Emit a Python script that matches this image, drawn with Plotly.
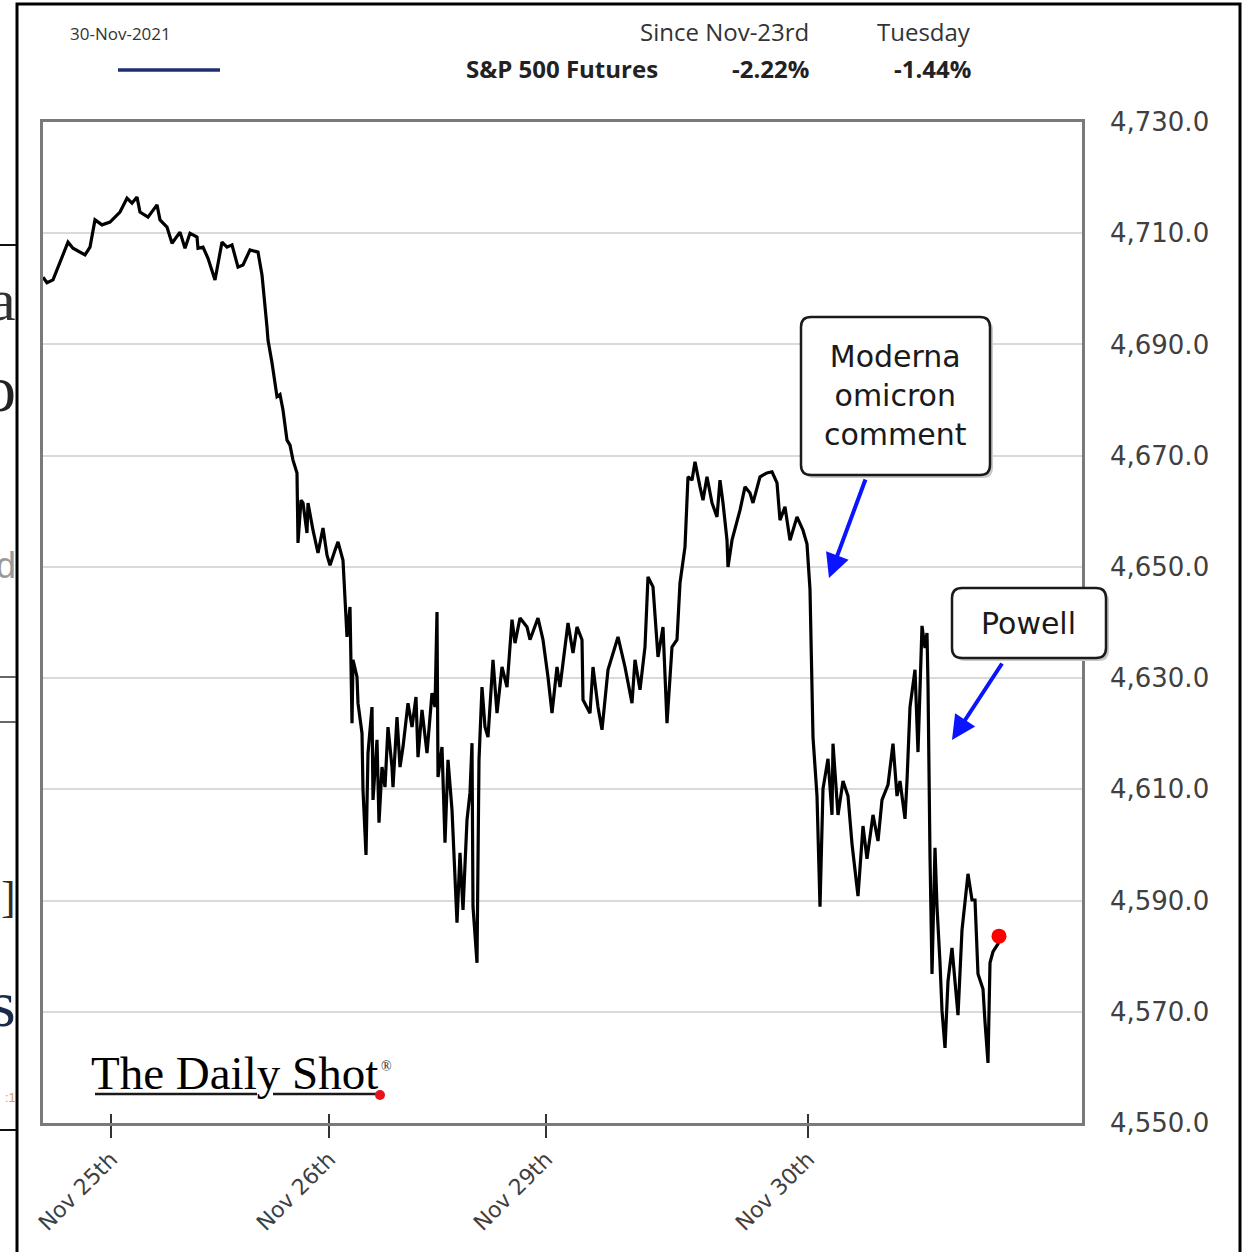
import plotly.graph_objects as go

# ---------------- data ----------------
minute_idx = [0, 4, 10, 17, 25, 30, 42, 47, 52, 59, 67, 77, 84, 89, 94, 97, 105, 114, 117, 124,
              129, 137, 142, 147, 154, 155, 160, 165, 172, 179, 184, 189, 195, 200, 207, 215, 219, 224, 225, 229,
              234, 237, 240, 244, 247, 250, 254, 255, 258, 260, 264, 265, 270, 275, 280, 284, 287, 292, 295, 300,
              302, 304, 307, 309, 310, 314, 315, 319, 320, 323, 325, 329, 330, 334, 336, 339, 342, 345, 349, 350,
              354, 357, 360, 365, 369, 373, 375, 379, 384, 389, 392, 394, 395, 399, 402, 405, 409, 414, 417, 420,
              424, 427, 429, 430, 434, 436, 439, 442, 445, 450, 454, 459, 464, 469, 472, 477, 484, 487, 495, 500,
              505, 509, 514, 517, 525, 530, 534, 539, 540, 547, 550, 555, 559, 565, 575, 582, 589, 592, 597, 602,
              605, 610, 615, 620, 624, 629, 634, 637, 642, 645, 649, 652, 657, 660, 664, 669, 674, 677, 680, 684,
              685, 689, 697, 702, 707, 710, 717, 724, 729, 734, 737, 742, 747, 754, 760, 764, 767, 769, 770, 774,
              777, 780, 785, 789, 790, 795, 800, 805, 809, 812, 815, 820, 824, 830, 835, 839, 845, 850, 854, 857,
              862, 864, 867, 872, 875, 879, 882, 884, 885, 887, 889, 892, 894, 897, 899, 902, 905, 909, 912, 915,
              919, 922, 925, 929, 932, 935, 940, 942, 945, 947, 950, 955, 956]

price = [4702.1, 4701.1, 4701.6, 4704.6, 4708.4, 4707.3, 4706.1, 4707.5, 4712.4, 4711.5,
         4712.0, 4713.8, 4716.3, 4715.4, 4716.5, 4713.8, 4712.9, 4715.1, 4712.4, 4711.1,
         4708.2, 4710.2, 4707.3, 4710.0, 4709.3, 4707.3, 4707.5, 4705.5, 4701.6, 4708.4,
         4707.5, 4707.9, 4703.9, 4704.3, 4707.0, 4706.6, 4702.5, 4693.1, 4690.8, 4686.7,
         4680.6, 4681.0, 4678.2, 4672.8, 4671.9, 4669.2, 4666.9, 4654.3, 4662.0, 4661.5,
         4656.1, 4661.5, 4656.6, 4652.5, 4657.0, 4652.1, 4650.3, 4653.0, 4654.5, 4651.2,
         4644.1, 4637.4, 4642.8, 4621.9, 4633.3, 4630.2, 4625.5, 4620.1, 4609.9, 4598.2,
         4616.5, 4624.8, 4608.1, 4618.9, 4604.0, 4614.0, 4610.4, 4621.2, 4614.0, 4610.4,
         4623.0, 4614.0, 4617.6, 4625.5, 4621.2, 4626.6, 4615.8, 4624.3, 4616.5, 4627.3,
         4624.8, 4641.9, 4612.2, 4617.6, 4600.4, 4615.3, 4606.3, 4586.0, 4598.6, 4588.3,
         4604.5, 4609.4, 4618.3, 4588.9, 4578.8, 4615.3, 4628.4, 4621.2, 4619.4, 4633.3,
         4623.7, 4632.0, 4628.4, 4640.5, 4636.3, 4640.8, 4639.2, 4636.9, 4640.8, 4636.9,
         4630.2, 4623.7, 4632.0, 4628.4, 4639.9, 4634.5, 4639.2, 4636.9, 4626.1, 4623.7,
         4632.0, 4624.8, 4620.7, 4631.5, 4637.4, 4632.0, 4625.5, 4633.3, 4627.9, 4635.6,
         4648.2, 4646.4, 4633.8, 4639.2, 4621.9, 4635.6, 4636.9, 4647.1, 4653.6, 4666.2,
         4665.6, 4668.9, 4664.4, 4662.0, 4666.2, 4661.5, 4659.0, 4665.6, 4661.5, 4654.8,
         4650.0, 4654.8, 4660.2, 4664.4, 4663.3, 4661.5, 4666.2, 4666.9, 4667.1, 4665.1,
         4658.4, 4660.8, 4654.8, 4659.0, 4656.6, 4654.1, 4645.9, 4627.9, 4619.4, 4608.8,
         4588.9, 4610.1, 4615.5, 4605.4, 4618.2, 4605.4, 4611.5, 4608.8, 4600.2, 4595.5,
         4590.8, 4603.4, 4597.5, 4605.4, 4600.7, 4608.1, 4610.8, 4618.2, 4608.8, 4611.5,
         4604.7, 4611.5, 4624.8, 4631.5, 4616.7, 4639.4, 4635.4, 4638.1, 4628.8, 4598.0,
         4576.8, 4599.5, 4588.9, 4578.8, 4570.2, 4563.5, 4575.5, 4581.5, 4575.5, 4569.4,
         4584.7, 4590.1, 4594.8, 4590.1, 4590.1, 4576.8, 4574.1, 4568.2, 4560.8, 4578.8,
         4580.8, 4582.2, 4583.6]

x_tick_pos = [68, 286, 503, 765]
x_tick_text = ["Nov 25th", "Nov 26th", "Nov 29th", "Nov 30th"]
y_tick_vals = [4550, 4570, 4590, 4610, 4630, 4650, 4670, 4690, 4710, 4730]

header_date = "30-Nov-2021"
series_name = "S&P 500 Futures"
col_headers = ["Since Nov-23rd", "Tuesday"]
col_values = ["-2.22%", "-1.44%"]
note_moderna = "Moderna<br>omicron<br>comment"
note_powell = "Powell"

n = min(len(minute_idx), len(price))
minute_idx = minute_idx[:n]
price = price[:n]

# ---------------- layout helpers (pixel -> paper) ----------------
W, H = 1251, 1252
L, R, T, B = 43, 1082, 122, 1123


def fx(px):
    return (px - L) / (R - L)


def fy(py):
    return (B - py) / (B - T)


def rbox(x0, y0, x1, y1, r):
    pts = [
        ("M", [(x0 + r, y0)]), ("L", [(x1 - r, y0)]), ("Q", [(x1, y0), (x1, y0 + r)]),
        ("L", [(x1, y1 - r)]), ("Q", [(x1, y1), (x1 - r, y1)]),
        ("L", [(x0 + r, y1)]), ("Q", [(x0, y1), (x0, y1 - r)]),
        ("L", [(x0, y0 + r)]), ("Q", [(x0, y0), (x0 + r, y0)]),
    ]
    s = ""
    for cmd, ps in pts:
        s += cmd + " " + " ".join(f"{fx(a):.5f},{fy(b):.5f}" for a, b in ps) + " "
    return s + "Z"


fig = go.Figure()
fig.add_trace(go.Scatter(x=minute_idx, y=price, mode="lines",
                         line=dict(color="#000000", width=3.2), hoverinfo="skip", showlegend=False))
fig.add_trace(go.Scatter(x=[minute_idx[-1]], y=[price[-1]], mode="markers",
                         marker=dict(color="#ff0000", size=15), hoverinfo="skip", showlegend=False))

shapes = []
annotations = []

# outer frame
shapes.append(dict(type="rect", xref="paper", yref="paper", x0=fx(17), x1=fx(1240), y0=fy(1262), y1=fy(4),
                   line=dict(color="#000000", width=3), layer="above"))
# background page remnants at the left
for yy, c, w in [(245, "#111111", 2), (677, "#333333", 1.5), (722, "#333333", 1.5), (1130, "#111111", 2)]:
    shapes.append(dict(type="line", xref="paper", yref="paper", x0=fx(0), x1=fx(16), y0=fy(yy), y1=fy(yy),
                       line=dict(color=c, width=w), layer="above"))
for txt, yy, fam, sz, col in [("a", 300, "Liberation Serif", 60, "#333333"),
                               ("o", 388, "Liberation Serif", 66, "#222222"),
                               ("d", 565, "Liberation Sans", 36, "#999999"),
                               ("]", 897, "Liberation Serif", 44, "#3a2a1a"),
                               ("s", 1003, "Liberation Serif", 66, "#1a2a4a"),
                               (":1", 1097, "Liberation Sans", 13, "#e0a060")]:
    annotations.append(dict(text=txt, xref="paper", yref="paper", x=fx(18), y=fy(yy), xanchor="right",
                            yanchor="middle", showarrow=False, font=dict(family=fam, size=sz, color=col)))

# header
annotations.append(dict(text=header_date, xref="paper", yref="paper", x=fx(68), y=fy(33), xanchor="left",
                        yanchor="middle", showarrow=False,
                        font=dict(family="Open Sans", size=17, color="#333333")))
shapes.append(dict(type="line", xref="paper", yref="paper", x0=fx(118), x1=fx(220), y0=fy(70), y1=fy(70),
                   line=dict(color="#1f2f6e", width=3.5), layer="above"))
annotations.append(dict(text="<b>" + series_name + "</b>", xref="paper", yref="paper", x=fx(660), y=fy(68),
                        xanchor="right", yanchor="middle", showarrow=False,
                        font=dict(family="Open Sans", size=24, color="#222222")))
for txt, xr in zip(col_headers, [811, 973]):
    annotations.append(dict(text=txt, xref="paper", yref="paper", x=fx(xr), y=fy(31), xanchor="right",
                            yanchor="middle", showarrow=False,
                            font=dict(family="Open Sans", size=24, color="#333333")))
for txt, xr in zip(col_values, [811, 973]):
    annotations.append(dict(text="<b>" + txt + "</b>", xref="paper", yref="paper", x=fx(xr), y=fy(68),
                            xanchor="right", yanchor="middle", showarrow=False,
                            font=dict(family="Open Sans", size=24, color="#222222")))

# callout boxes
for (x0, y0, x1, y1) in [(801, 317, 990, 475), (952, 588, 1106, 658)]:
    shapes.append(dict(type="path", xref="paper", yref="paper", path=rbox(x0 + 3, y0 + 3, x1 + 3, y1 + 3, 10),
                       fillcolor="#c8c8c8", line=dict(width=0), layer="above"))
    shapes.append(dict(type="path", xref="paper", yref="paper", path=rbox(x0, y0, x1, y1, 10),
                       fillcolor="#ffffff", line=dict(color="#1a1a1a", width=2.5), layer="above"))
annotations.append(dict(text=note_moderna, xref="paper", yref="paper", x=fx(895), y=fy(396), xanchor="center",
                        yanchor="middle", showarrow=False,
                        font=dict(family="DejaVu Sans", size=30, color="#1a1a1a")))
annotations.append(dict(text=note_powell, xref="paper", yref="paper", x=fx(1028), y=fy(623), xanchor="center",
                        yanchor="middle", showarrow=False,
                        font=dict(family="DejaVu Sans", size=30, color="#1a1a1a")))
# blue arrows
for (hx, hy, tx, ty) in [(829, 578, 866, 478), (952, 740, 1003, 662)]:
    annotations.append(dict(text="", xref="paper", yref="paper", x=fx(hx), y=fy(hy), ax=tx - hx, ay=ty - hy,
                            showarrow=True, arrowhead=2, arrowsize=1.2, arrowwidth=4, arrowcolor="#0a14ff"))

# logo
annotations.append(dict(text="The Daily Shot", xref="paper", yref="paper", x=fx(89), y=fy(1073),
                        xanchor="left", yanchor="middle", showarrow=False,
                        font=dict(family="Liberation Serif", size=47, color="#000000")))
annotations.append(dict(text="®", xref="paper", yref="paper", x=fx(386), y=fy(1066), xanchor="center",
                        yanchor="middle", showarrow=False,
                        font=dict(family="Liberation Serif", size=14, color="#1a1a1a")))
for (a, b) in [(95, 257), (273, 378)]:
    shapes.append(dict(type="line", xref="paper", yref="paper", x0=fx(a), x1=fx(b), y0=fy(1094), y1=fy(1094),
                       line=dict(color="#1a1a1a", width=2.5), layer="above"))
shapes.append(dict(type="circle", xref="paper", yref="paper", x0=fx(375), x1=fx(385), y0=fy(1100), y1=fy(1090),
                   fillcolor="#e8141c", line=dict(width=0), layer="above"))

# cross-ticks (inner part) on x-axis
for tp in x_tick_pos:
    shapes.append(dict(type="line", xref="x", yref="paper", x0=tp, x1=tp, y0=0, y1=fy(1114),
                       line=dict(color="#333333", width=2), layer="above"))

fig.update_layout(
    width=W, height=H,
    margin=dict(l=L, r=W - R, t=T, b=H - B, pad=0),
    paper_bgcolor="#ffffff", plot_bgcolor="#ffffff",
    shapes=shapes, annotations=annotations,
    showlegend=False,
    xaxis=dict(range=[0, R - L], tickvals=x_tick_pos, ticktext=x_tick_text, tickangle=-45,
               ticks="outside", ticklen=12, tickwidth=2, tickcolor="#333333",
               showgrid=False, zeroline=False, showline=True, mirror=True,
               linecolor="#7a7a7a", linewidth=2.5,
               tickfont=dict(family="DejaVu Sans", size=22, color="#404040")),
    yaxis=dict(range=[4550, 4730], side="right", tickvals=y_tick_vals, tickformat=",.1f",
               ticks="", ticklabelstandoff=20, showgrid=True, gridcolor="#dadada", gridwidth=1.5,
               zeroline=False, showline=True, mirror=True, linecolor="#7a7a7a", linewidth=2.5,
               tickfont=dict(family="DejaVu Sans", size=26, color="#404040")),
)

fig.write_html("out.html", config={"displayModeBar": False},
               post_script="document.body.style.margin='0';document.body.style.overflow='hidden';")
